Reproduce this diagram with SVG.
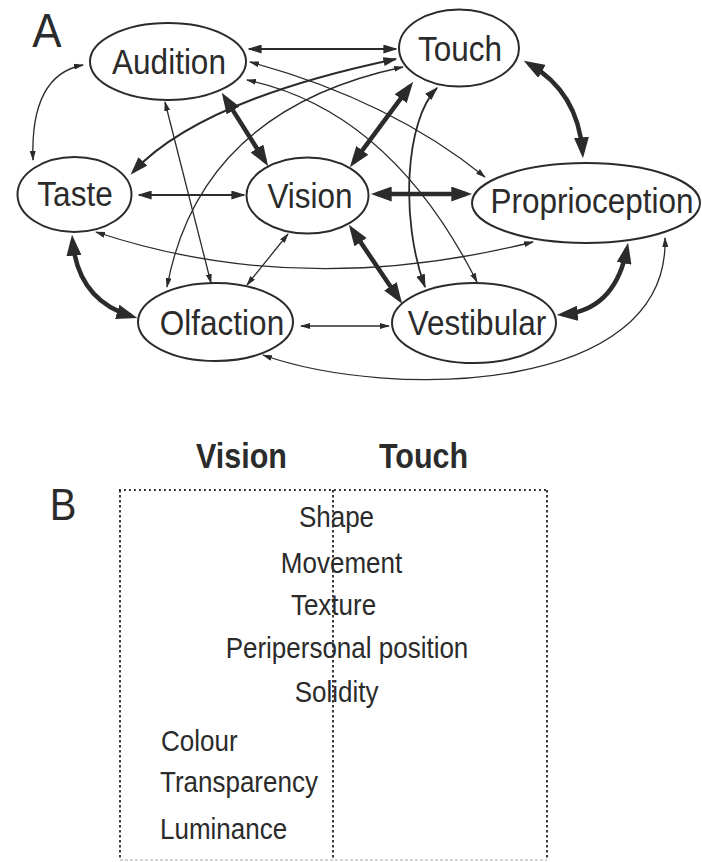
<svg xmlns="http://www.w3.org/2000/svg" width="702" height="862" viewBox="0 0 702 862">
  <style>
    .bg { fill: #ffffff; }
    .node ellipse { fill: #ffffff; stroke: #2b2b2b; stroke-width: 2; }
    .node text { font-family: "Liberation Sans", Arial, Helvetica, sans-serif; font-size: 31.5px; fill: #2b2b2b; text-anchor: middle; }
    .panel { font-family: "Liberation Sans", Arial, Helvetica, sans-serif; fill: #2b2b2b; }
    .edge { fill: none; stroke: #2b2b2b; }
    .thin { stroke-width: 1.3; marker-start: url(#hThin); marker-end: url(#hThin); }
    .med { stroke-width: 1.8; marker-start: url(#hMed); marker-end: url(#hMed); }
    .thick { stroke-width: 4.5; marker-start: url(#hBig); marker-end: url(#hBig); }
    .head { fill: #2b2b2b; stroke: none; }
    .hd { font-size: 30.5px; font-weight: bold; text-anchor: middle; }
    .item { font-size: 26px; }
    .mid { text-anchor: middle; }
    .dots { fill: none; stroke: #262626; stroke-width: 1.8; }
  </style>
  <defs>
    <marker id="hThin" viewBox="0 0 10 10" refX="9" refY="5" markerUnits="userSpaceOnUse" markerWidth="10" markerHeight="6" preserveAspectRatio="none" orient="auto-start-reverse">
      <path class="head" d="M0,0 L10,5 L0,10 z"/>
    </marker>
    <marker id="hMed" viewBox="0 0 10 10" refX="9" refY="5" markerUnits="userSpaceOnUse" markerWidth="14" markerHeight="9" preserveAspectRatio="none" orient="auto-start-reverse">
      <path class="head" d="M0,0 L10,5 L0,10 z"/>
    </marker>
    <marker id="hBig" viewBox="0 0 10 10" refX="7" refY="5" markerUnits="userSpaceOnUse" markerWidth="21" markerHeight="15" preserveAspectRatio="none" orient="auto-start-reverse">
      <path class="head" d="M0,0 L10,5 L0,10 z"/>
    </marker>
    <marker id="hTaste" viewBox="0 0 10 10" refX="8" refY="5" markerUnits="userSpaceOnUse" markerWidth="18" markerHeight="12" preserveAspectRatio="none" orient="auto-start-reverse">
      <path class="head" d="M0,0 L10,5 L0,10 z"/>
    </marker>
  </defs>

  <rect class="bg" x="0" y="0" width="702" height="862"/>

  <!-- Panel A -->
  <text class="panel" font-size="44" text-anchor="middle" transform="translate(47,47) scale(1,1.1)">A</text>

  <g id="connectors">
    <!-- Audition links -->
    <path class="edge med" stroke="#4a4a4a" stroke-width="2.4" d="M249,49 L396,49"/>
    <path class="edge thin" d="M250,62 Q390,100 485,177"/>
    <path class="edge thin" d="M247,80 Q390,110 477,282"/>
    <path class="edge thin" d="M165,102 L211,283"/>
    <path class="edge thin" d="M83,65 Q30,75 33,160"/>
    <path class="edge thick" d="M225.2,98.1 L264.8,160.9"/>
    <!-- Touch links -->
    <path class="edge" stroke-width="2.2" marker-start="url(#hMed)" marker-end="url(#hTaste)" d="M396,59 Q200,100 133,172"/>
    <path class="edge thin" d="M403,67 Q200,110 167,287"/>
    <path class="edge thick" d="M409.4,86.8 L353.6,162.2"/>
    <path class="edge thick" d="M529.2,64 Q578,92 582.5,152"/>
    <path class="edge med" d="M437,88 C405,120 400,220 425,287"/>
    <!-- Taste links -->
    <path class="edge med" d="M139,195 L244,195"/>
    <path class="edge thin" d="M96,232 Q300,300 533,242"/>
    <path class="edge thick" d="M72.6,241 Q78,300 131.3,316.2"/>
    <!-- Vision links -->
    <path class="edge thick" d="M377,194 L466,194"/>
    <path class="edge thin" stroke-width="1.5" d="M288,234 L247,285"/>
    <path class="edge thick" d="M352.4,230 L398.6,298.5"/>
    <!-- Olfaction / Vestibular / Proprioception links -->
    <path class="edge thin" d="M301,326 L389,326"/>
    <path class="edge thin" d="M263,355 C390,400 670,395 665,238"/>
    <path class="edge thick" d="M563,314.5 Q615,310 626.9,248.9"/>
  </g>

  <g id="audition" class="node">
    <ellipse cx="168" cy="61.5" rx="78" ry="38.5"/>
    <text transform="translate(169,74) scale(1,1.1)">Audition</text>
  </g>
  <g id="touch" class="node">
    <ellipse cx="459" cy="48" rx="60" ry="38.5"/>
    <text transform="translate(460,61) scale(1,1.1)">Touch</text>
  </g>
  <g id="taste" class="node">
    <ellipse cx="74.5" cy="194.5" rx="57" ry="37.5"/>
    <text transform="translate(75,206) scale(1,1.1)">Taste</text>
  </g>
  <g id="vision" class="node">
    <ellipse cx="307.5" cy="195.5" rx="61" ry="38"/>
    <text transform="translate(310,208) scale(1,1.1)">Vision</text>
  </g>
  <g id="proprioception" class="node">
    <ellipse cx="586" cy="203" rx="114" ry="40"/>
    <text transform="translate(592,213) scale(1,1.1)">Proprioception</text>
  </g>
  <g id="olfaction" class="node">
    <ellipse cx="215.5" cy="322" rx="77.5" ry="39"/>
    <text transform="translate(222,335) scale(1,1.1)">Olfaction</text>
  </g>
  <g id="vestibular" class="node">
    <ellipse cx="474" cy="323" rx="82" ry="40"/>
    <text transform="translate(477,335) scale(1,1.1)">Vestibular</text>
  </g>

  <!-- Panel B -->
  <g id="panel-b">
    <text class="panel" font-size="40" text-anchor="middle" transform="translate(63,520) scale(1,1.12)">B</text>
    <text class="panel hd" transform="translate(241.5,468) scale(1,1.18)">Vision</text>
    <text class="panel hd" transform="translate(423.5,468) scale(1,1.18)">Touch</text>

    <path class="dots" stroke-dasharray="1.8 3.2" d="M119,490 H547"/>
    <path class="dots" stroke-dasharray="2.5 2.5" d="M120,490 V858"/>
    <path class="dots" stroke-dasharray="2.5 2.5" d="M547,490 V858"/>
    <path class="dots" stroke-dasharray="2.5 2.5" d="M333,490 V858"/>
    <path fill="none" stroke="#a8a8a8" stroke-width="1" stroke-dasharray="3 2" d="M120,860 H547"/>

    <text class="panel item mid" transform="translate(336.5,527) scale(1,1.15)">Shape</text>
    <text class="panel item mid" transform="translate(341.5,573) scale(1,1.15)">Movement</text>
    <text class="panel item mid" transform="translate(333.5,615) scale(1,1.15)">Texture</text>
    <text class="panel item mid" transform="translate(347,658) scale(1,1.15)">Peripersonal position</text>
    <text class="panel item mid" transform="translate(336.5,702) scale(1,1.15)">Solidity</text>
    <text class="panel item" transform="translate(161,751) scale(1,1.15)">Colour</text>
    <text class="panel item" transform="translate(160,792) scale(1,1.15)">Transparency</text>
    <text class="panel item" transform="translate(160,839) scale(1,1.15)">Luminance</text>
  </g>
</svg>
